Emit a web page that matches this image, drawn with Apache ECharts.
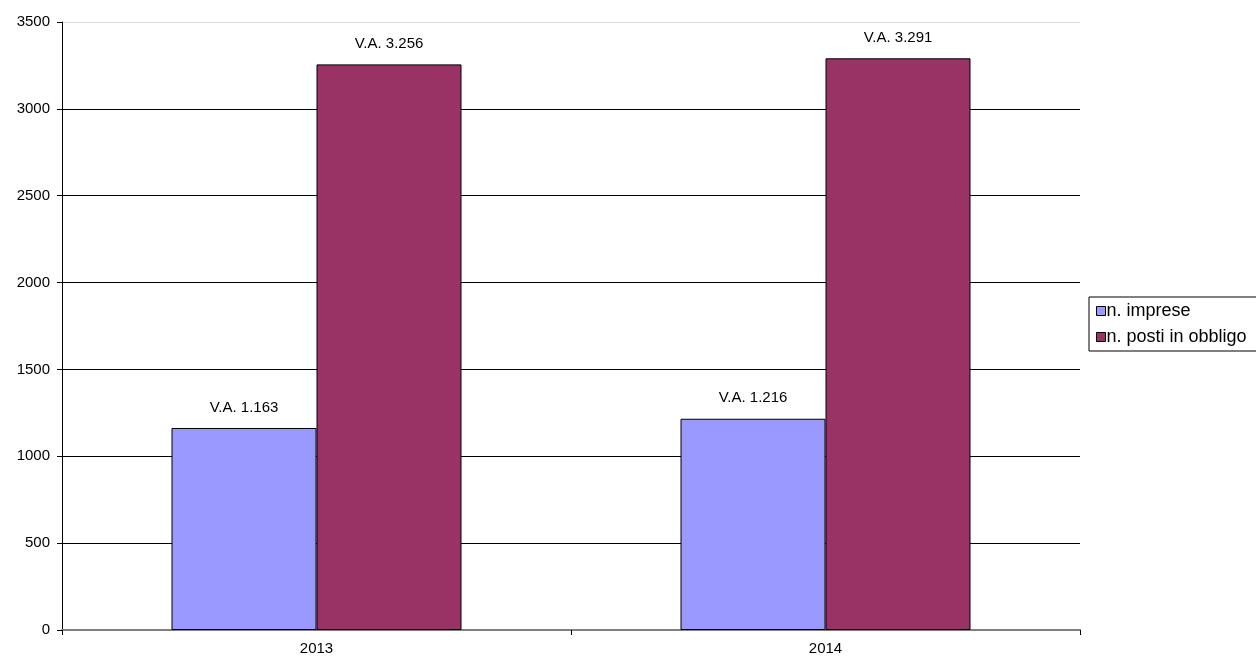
<!DOCTYPE html>
<html>
<head>
<meta charset="utf-8">
<script src="https://cdn.jsdelivr.net/npm/echarts@6/dist/echarts.min.js"></script>
<style>
html,body{margin:0;padding:0;background:#fff;}
#chart{width:1256px;height:661px;}
</style>
</head>
<body>
<div id="chart"></div>
<script>
const categories = ['2013', '2014'];
const imprese = [1163, 1216];
const posti = [3256, 3291];
const seriesNames = ['n. imprese', 'n. posti in obbligo'];

function fmt(v) {
  return 'V.A. ' + String(v).replace(/\B(?=(\d{3})+(?!\d))/g, '.');
}

const chart = echarts.init(document.getElementById('chart'));
const font = 'Liberation Sans, Arial, sans-serif';
const labelCfg = {
  show: true,
  position: 'top',
  distance: 13,
  color: '#000',
  fontSize: 15,
  fontFamily: font,
  formatter: p => fmt(p.value)
};
chart.setOption({
  animation: false,
  backgroundColor: '#fff',
  grid: { left: 62, right: 176, top: 22, bottom: 31, containLabel: false },
  legend: {
    orient: 'vertical',
    left: 1089,
    top: 297,
    icon: 'rect',
    itemWidth: 9,
    itemHeight: 9,
    itemGap: 8,
    padding: [5, 20, 5, 7],
    borderColor: '#000',
    borderWidth: 1,
    textStyle: { fontSize: 18, fontFamily: font, color: '#000', padding: [0, 0, 0, -4] },
    data: seriesNames.map(n => ({ name: n, itemStyle: { borderColor: '#000', borderWidth: 1 } }))
  },
  xAxis: {
    type: 'category',
    data: categories,
    axisLine: { lineStyle: { color: '#808080', width: 2 } },
    axisTick: { show: true, alignWithLabel: false, length: 5, lineStyle: { color: '#000' } },
    axisLabel: { fontSize: 15, fontFamily: font, color: '#000', margin: 11 }
  },
  yAxis: {
    type: 'value',
    min: 0,
    max: 3500,
    interval: 500,
    axisLine: { show: true, lineStyle: { color: '#000', width: 1 } },
    axisTick: { show: true, length: 5, lineStyle: { color: '#000' } },
    axisLabel: { fontSize: 15, fontFamily: font, color: '#000', margin: 12, formatter: v => String(v) },
    splitLine: {
      show: true,
      lineStyle: { color: ['#808080', '#000', '#000', '#000', '#000', '#000', '#000', '#dddddd'], width: 1 }
    }
  },
  series: [
    {
      name: seriesNames[0],
      type: 'bar',
      data: imprese,
      barWidth: 145,
      barGap: '0%',
      itemStyle: { color: '#9999FF', borderColor: '#000', borderWidth: 1 },
      label: labelCfg
    },
    {
      name: seriesNames[1],
      type: 'bar',
      data: posti,
      barWidth: 145,
      barGap: '0%',
      itemStyle: { color: '#993366', borderColor: '#000', borderWidth: 1 },
      label: labelCfg
    }
  ]
});
</script>
</body>
</html>
